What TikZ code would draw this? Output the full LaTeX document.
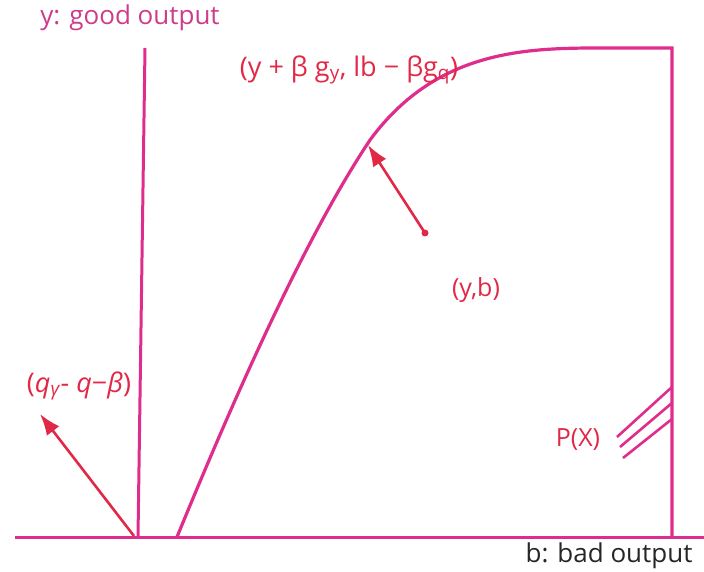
\documentclass[tikz,border=0pt]{standalone}
\usepackage{fontspec}
\setmainfont{Open Sans}
\usepackage{xcolor}
\usetikzlibrary{arrows.meta,positioning}

\definecolor{curvepink}{RGB}{222,45,140}
\definecolor{labelred}{RGB}{225,40,70}
\definecolor{axispink}{RGB}{205,60,140}

\begin{document}
\begin{tikzpicture}[
  x=1pt, y=-1pt,
  frontier/.style={draw=curvepink, line width=3.2pt},
  axisline/.style={draw=curvepink, line width=3pt},
  redlabel/.style={text=labelred, font=\fontsize{27}{29}\selectfont, inner sep=1pt},
  smalllabel/.style={text=labelred, font=\fontsize{25}{27}\selectfont, inner sep=1pt},
  axislabel/.style={font=\fontsize{26}{28}\selectfont, inner sep=1pt},
  arrow/.style={-{Latex[length=7.5mm,width=5.5mm]}, draw=labelred, line width=2.6pt}
]
\useasboundingbox (0,0) rectangle (704,572);

% axes
\coordinate (o) at (15,537);
\coordinate (bend) at (704,537);
\draw[axisline] (o) -- (bend);
\coordinate (ytop) at (145,48);
\coordinate (ybot) at (138,537);
\draw[axisline] (ybot) -- (ytop);
\node[axislabel, text=axispink] (ylab) at (130,18) {y: good output};
\node[axislabel, text=black!85] (blab) at (609,556) {b: bad output};

% frontier P(x)
\coordinate (f0) at (177,537);
\coordinate (f1) at (370,140);
\coordinate (f2) at (615,48);
\coordinate (rtop) at (672,48);
\coordinate (rbot) at (672,537);
\draw[frontier] (f0) .. controls (225,420) and (300,245) .. (f1)
  .. controls (440,45) and (535,48) .. (f2) -- (rtop) -- (rbot);

% hatching at the right boundary
\foreach \i/\a/\b in {1/387/437,2/403/447,3/419/458}{
  \coordinate (h\i) at (672,\a);
  \coordinate (k\i) at (614+3*\i,\b);
  \draw[draw=curvepink, line width=2.6pt] (h\i) -- (k\i);
}
\node[smalllabel] (plab) at (578,440) {P(X)};

% direction vectors
\coordinate (yb) at (425,233);
\fill[labelred] (yb) circle (3.5pt);
\draw[arrow] (yb) -- (368,145);
\node[smalllabel] (yblab) at (476,290) {(y,b)};
\node[redlabel] (top) at (349,70) {(y + β g\textsubscript{y}, lb − βg\textsubscript{q})};

\coordinate (g0) at (134,536);
\coordinate (g1) at (40,414);
\draw[arrow] (g0) -- (g1);
\node[redlabel] (glab) at (79,386) {(\textit{q}\textsubscript{\textit{γ}}- \textit{q}−\textit{β})};
\end{tikzpicture}
\end{document}
